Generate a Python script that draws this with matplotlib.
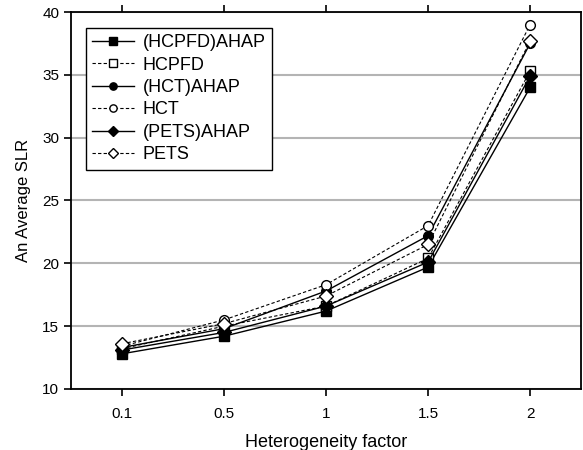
import numpy as np
import matplotlib
matplotlib.use("Agg")
import matplotlib.pyplot as plt

plt.rcParams['font.family'] = ['Liberation Sans', 'DejaVu Sans']

categories = ['0.1', '0.5', '1', '1.5', '2']
hcpfd_ahap = [12.8, 14.2, 16.2, 19.7, 34.0]
hcpfd = [13.2, 15.0, 16.6, 20.4, 35.3]
hct_ahap = [13.3, 14.8, 17.8, 22.2, 37.5]
hct = [13.4, 15.5, 18.3, 23.0, 39.0]
pets_ahap = [13.1, 14.5, 16.6, 20.1, 34.9]
pets = [13.6, 15.2, 17.4, 21.5, 37.7]

x = np.arange(len(categories))

fig = plt.figure(figsize=(5.83, 4.5), dpi=100)
ax = fig.add_axes([0.1218, 0.1356, 0.875, 0.8377])

ms = 7
ax.plot(x, hcpfd_ahap, 'k-', marker='s', ms=ms, mfc='k', lw=1, label='(HCPFD)AHAP', zorder=3)
ax.plot(x, hcpfd, 'k--', marker='s', ms=ms, mfc='white', lw=0.8, dashes=(3, 2), label='HCPFD', zorder=3)
ax.plot(x, hct_ahap, 'k-', marker='o', ms=ms, mfc='k', lw=1, label='(HCT)AHAP', zorder=3)
ax.plot(x, hct, 'k--', marker='o', ms=ms, mfc='white', lw=0.8, dashes=(3, 2), label='HCT', zorder=3)
ax.plot(x, pets_ahap, 'k-', marker='D', ms=ms, mfc='k', lw=1, label='(PETS)AHAP', zorder=3)
ax.plot(x, pets, 'k--', marker='D', ms=ms, mfc='white', lw=0.8, dashes=(3, 2), label='PETS', zorder=3)

ax.set_xlim(-0.5, 4.5)
ax.set_ylim(10, 40)
ax.set_xticks(x)
ax.set_xticklabels(categories)
ax.set_yticks(np.arange(10, 41, 5))
ax.yaxis.grid(True, color='#b4b4b4', lw=1.5)
ax.set_axisbelow(True)
ax.tick_params(axis='both', direction='out', length=5, width=1.2, labelsize=11)
ax.tick_params(axis='x', top=True, pad=8)
for s in ax.spines.values():
    s.set_linewidth(1.3)

ax.set_xlabel('Heterogeneity factor', fontsize=13, labelpad=9)
ax.set_ylabel('An Average SLR', fontsize=12, labelpad=8)

leg = ax.legend(loc='upper left', bbox_to_anchor=(0.0294, 0.958), borderaxespad=0,
                prop={'size': 13}, markerscale=0.75,
                fancybox=False, edgecolor='black', framealpha=1,
                handlelength=2.3, handletextpad=0.5, labelspacing=0.3,
                borderpad=0.35)
leg.get_frame().set_linewidth(1.0)

fig.savefig('out.png', dpi=100)
